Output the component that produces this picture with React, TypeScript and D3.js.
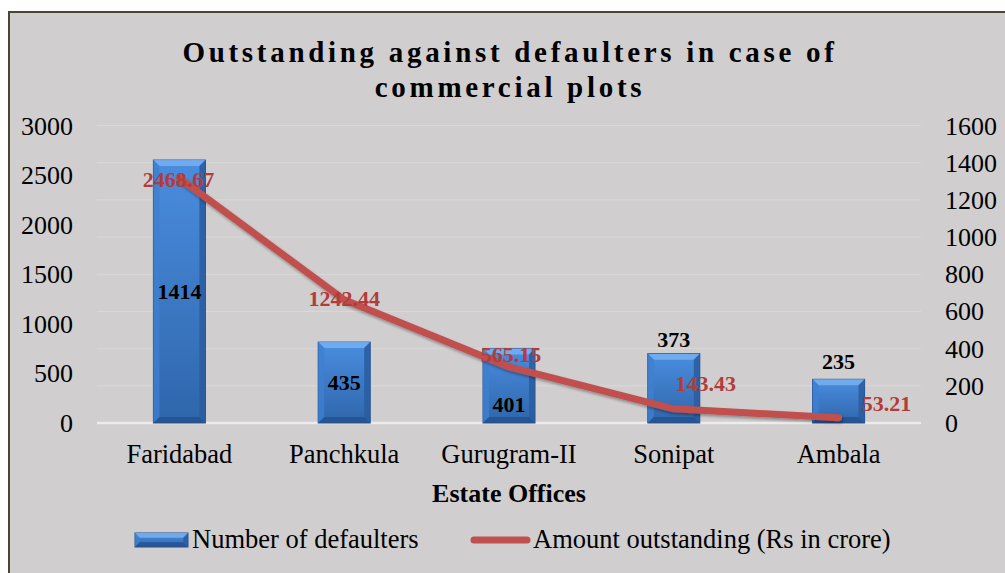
import React from "react";
import * as d3 from "d3";

const categories = ["Faridabad", "Panchkula", "Gurugram-II", "Sonipat", "Ambala"];
const defaulters = [1414, 435, 401, 373, 235];
const amounts = [2468.67, 1242.44, 565.15, 143.43, 53.21];
const leftTicks = [0, 500, 1000, 1500, 2000, 2500, 3000];
const rightTicks = [0, 200, 400, 600, 800, 1000, 1200, 1400, 1600];
const titleLines = ["Outstanding against defaulters in case of", "commercial plots"];
const xAxisTitle = "Estate Offices";
const seriesNames = ["Number of defaulters", "Amount outstanding (Rs in crore)"];

// label placement (offsets of text centre from the mark anchor, in px)
const barLabelOffset = [131, 40.5, 56.5, -14, -17.5]; // from bar top
const lineLabelOffset: [number, number][] = [[-1, 1.5], [0, -1], [2, -12], [32, -25], [48, -14]];

const W = 1005;
const H = 573;
const plotLeft = 97;
const plotRight = 921;
const plotTop = 125.5;
const plotBottom = 423;
const serif = "'Liberation Serif', 'Times New Roman', serif";

const x = d3.scaleBand<string>().domain(categories).range([plotLeft, plotRight]).paddingInner(0).paddingOuter(0);
const cx = (c: string) => (x(c) as number) + x.bandwidth() / 2;
const yL = d3.scaleLinear().domain([0, 3000]).range([plotBottom, plotTop]);
const yR = d3.scaleLinear().domain([0, 1600]).range([plotBottom, plotTop]);
const barW = 52;

function BevelBar({ x0, y0, w, h }: { x0: number; y0: number; w: number; h: number }) {
  const b = Math.min(6, h / 3);
  return (
    <g>
      <rect x={x0} y={y0} width={w} height={h} fill="url(#barGrad)" stroke="#23508f" strokeWidth={1} />
      <polygon points={`${x0},${y0} ${x0 + w},${y0} ${x0 + w - b},${y0 + b} ${x0 + b},${y0 + b}`} fill="#74aef0" opacity={0.9} />
      <polygon points={`${x0},${y0} ${x0 + b},${y0 + b} ${x0 + b},${y0 + h - b} ${x0},${y0 + h}`} fill="#3f7fd0" opacity={0.8} />
      <polygon points={`${x0 + w},${y0} ${x0 + w - b},${y0 + b} ${x0 + w - b},${y0 + h - b} ${x0 + w},${y0 + h}`} fill="#2a5c9f" opacity={0.85} />
      <polygon points={`${x0},${y0 + h} ${x0 + b},${y0 + h - b} ${x0 + w - b},${y0 + h - b} ${x0 + w},${y0 + h}`} fill="#24528f" opacity={0.85} />
    </g>
  );
}

export default function App() {
  const line = d3
    .line<number>()
    .x((_, i) => cx(categories[i]))
    .y((d) => yL(d));
  const pathD = line(amounts) || "";

  return (
    <svg width={W} height={H} style={{ position: "absolute", left: 0, top: 0 }} fontFamily={serif}>
      <defs>
        <linearGradient id="barGrad" x1="0" y1="0" x2="0" y2="1">
          <stop offset="0" stopColor="#4a8ddf" />
          <stop offset="1" stopColor="#2f66ab" />
        </linearGradient>
        <filter id="shadow" x="-10%" y="-10%" width="120%" height="130%">
          <feGaussianBlur in="SourceAlpha" stdDeviation="1.5" />
          <feOffset dx="1" dy="2" result="b" />
          <feComponentTransfer>
            <feFuncA type="linear" slope="0.35" />
          </feComponentTransfer>
          <feMerge>
            <feMergeNode />
            <feMergeNode in="SourceGraphic" />
          </feMerge>
        </filter>
      </defs>
      <rect x={0} y={0} width={W} height={H} fill="#ffffff" />
      <rect x={9} y={12} width={W + 10} height={H + 10} fill="#d0cecf" stroke="#4a4632" strokeWidth={2} />

      {/* title */}
      {titleLines.map((t, i) => (
        <text key={i} x={510} y={62 + i * 35} textAnchor="middle" fontSize={29} fontWeight="bold" letterSpacing={3.7} fill="#000">
          {t}
        </text>
      ))}

      {/* gridlines */}
      {rightTicks.map((t) => (
        <line key={t} x1={plotLeft} x2={plotRight} y1={yR(t)} y2={yR(t)} stroke={t === 0 ? "#ececec" : "#dad9da"} strokeWidth={t === 0 ? 2.5 : 1} />
      ))}

      {/* left ticks */}
      {leftTicks.map((t) => (
        <text key={t} x={73} y={yL(t) + 9} textAnchor="end" fontSize={26} fill="#000">
          {t}
        </text>
      ))}
      {/* right ticks */}
      {rightTicks.map((t) => (
        <text key={t} x={945} y={yR(t) + 9} textAnchor="start" fontSize={26} fill="#000">
          {t}
        </text>
      ))}

      {/* bars */}
      {defaulters.map((v, i) => (
        <BevelBar key={i} x0={cx(categories[i]) - barW / 2} y0={yR(v)} w={barW} h={plotBottom - yR(v)} />
      ))}

      {/* line */}
      <path d={pathD} fill="none" stroke="#c0504d" strokeWidth={7} strokeLinejoin="round" strokeLinecap="round" filter="url(#shadow)" />

      {/* bar labels */}
      {defaulters.map((v, i) => (
        <text key={i} x={cx(categories[i])} y={yR(v) + barLabelOffset[i] + 7.5} textAnchor="middle" fontSize={22} fontWeight="bold" fill="#000">
          {String(v)}
        </text>
      ))}

      {/* line labels */}
      {amounts.map((v, i) => (
        <text key={i} x={cx(categories[i]) + lineLabelOffset[i][0]} y={yL(v) + lineLabelOffset[i][1] + 7.5} textAnchor="middle" fontSize={22} fontWeight="bold" fill="#b13c39">
          {String(v)}
        </text>
      ))}

      {/* category labels */}
      {categories.map((c) => (
        <text key={c} x={cx(c)} y={463} textAnchor="middle" fontSize={26.5} fill="#000">
          {c}
        </text>
      ))}
      <text x={509} y={502} textAnchor="middle" fontSize={26} fontWeight="bold" fill="#000">
        {xAxisTitle}
      </text>

      {/* legend */}
      <BevelBar x0={135} y0={533} w={53} h={14} />
      <text x={192} y={548} fontSize={26.5} fill="#000">
        {seriesNames[0]}
      </text>
      <line x1={474} x2={527} y1={540} y2={540} stroke="#c0504d" strokeWidth={7} strokeLinecap="round" />
      <text x={533} y={548} fontSize={26.5} fill="#000">
        {seriesNames[1]}
      </text>
    </svg>
  );
}
